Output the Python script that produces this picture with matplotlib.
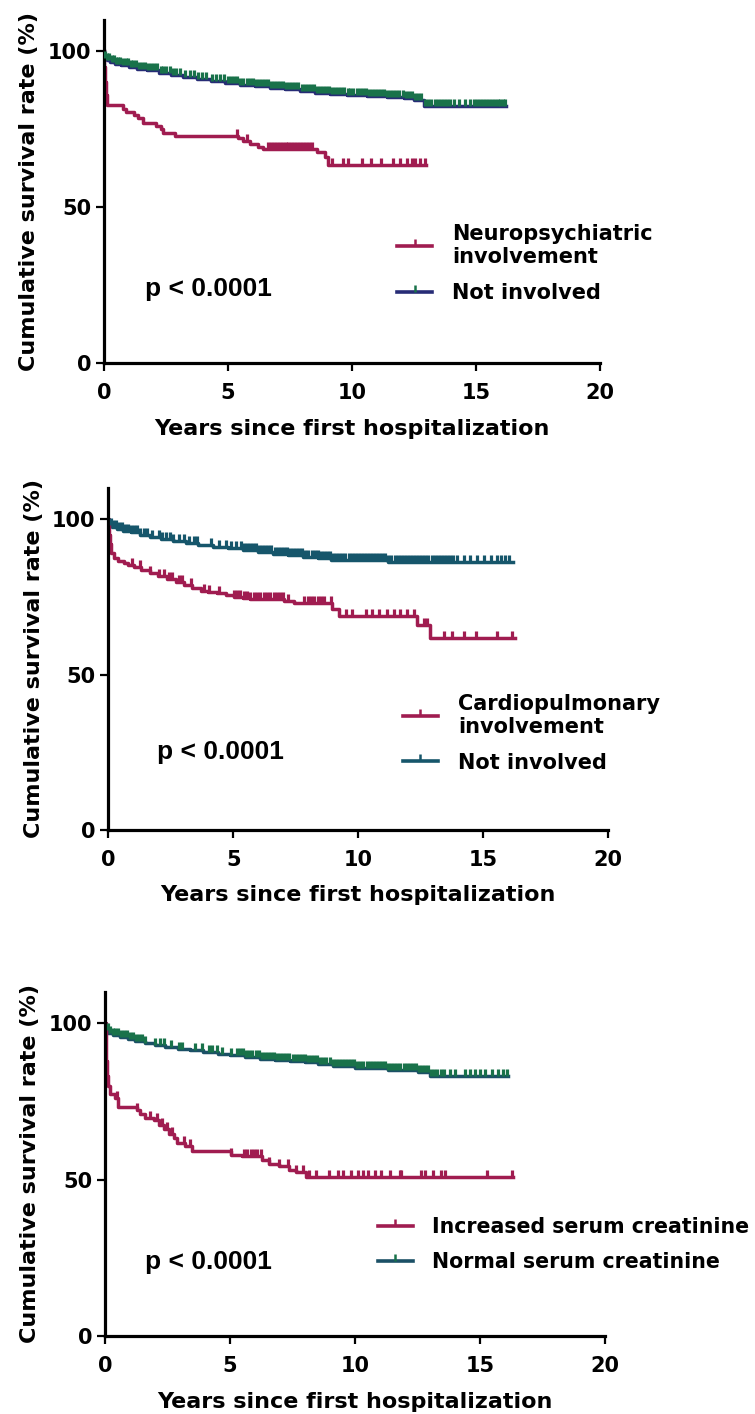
import numpy as np
import matplotlib
matplotlib.use("Agg")
import matplotlib.pyplot as plt
from matplotlib.lines import Line2D

plt.rcParams["font.family"] = ["DejaVu Sans"]
plt.rcParams["font.weight"] = "bold"
plt.rcParams["axes.labelweight"] = "bold"

RED = "#A01C50"
NAVY = "#272C76"
GREEN = "#19724A"
TEAL = "#16566B"
DARK_TEAL = "#1B5066"

# --- panel 1: neuropsychiatric involvement ---
NP_T = [0, 0.02, 0.04, 0.07, 0.12, 0.77, 0.9, 1.23, 1.37, 1.57, 2.11, 2.3, 2.4, 2.87,
        5.4, 5.6, 5.9, 6.2, 6.4, 8.6, 8.9, 9.05, 13.0]
NP_S = [100, 95, 90, 86, 82.8, 81.5, 80.5, 79.6, 78.5, 77.0, 75.9, 74.9, 73.8, 72.7,
        72.0, 71.1, 70.2, 69.2, 68.5, 67.5, 66.0, 63.6, 63.6]
NP_CENS = [5.35, 5.75, 6.6, 6.72, 6.84, 6.96, 7.08, 7.2, 7.32, 7.44, 7.56, 7.68, 7.8,
           7.92, 8.04, 8.16, 8.28, 8.4, 9.2, 9.65, 9.85, 10.4, 10.75, 11.15, 11.65,
           11.95, 12.2, 12.4, 12.55, 12.75, 12.95]

NI1_T = [0, 0.02, 0.06, 0.12, 0.25, 0.45, 0.7, 1.0, 1.35, 1.75, 2.2, 2.7, 3.2, 3.75, 4.3,
         4.9, 5.5, 6.1, 6.7, 7.3, 7.9, 8.5, 9.1, 9.8, 10.6, 11.4, 12.1, 12.5, 12.9, 16.2]
NI1_S = [100, 98.8, 97.9, 97.2, 96.6, 96.0, 95.5, 95.0, 94.4, 93.8, 93.1, 92.4, 91.7,
         91.0, 90.4, 89.8, 89.2, 88.7, 88.2, 87.7, 87.2, 86.7, 86.2, 85.8, 85.5, 85.2,
         84.9, 84.4, 82.4, 82.4]
NI1_CENS = [0.06, 0.14, 0.22, 0.31, 0.39, 0.48, 0.57, 0.66, 0.78, 0.87, 0.96, 1.08, 1.19,
            1.3, 1.42, 1.55, 1.66, 1.78, 1.9, 2.03, 2.15, 2.28, 2.4, 2.52, 2.66, 2.78,
            2.92, 3.07, 3.27, 3.47, 3.62, 3.78, 3.95, 4.12, 4.34, 4.5, 4.68, 4.85, 5.01,
            5.14, 5.26, 5.38, 5.5, 5.62, 5.75, 5.87, 5.99, 6.12, 6.24, 6.36, 6.49, 6.61,
            6.73, 6.86, 6.98, 7.1, 7.23, 7.35, 7.47, 7.6, 7.72, 7.84, 7.97, 8.09, 8.21,
            8.34, 8.46, 8.58, 8.71, 8.83, 8.95, 9.08, 9.2, 9.32, 9.45, 9.57, 9.69, 9.82,
            9.94, 10.06, 10.19, 10.31, 10.43, 10.56, 10.68, 10.8, 10.93, 11.05, 11.17,
            11.3, 11.42, 11.54, 11.67, 11.79, 11.91, 12.04, 12.16, 12.28, 12.41, 12.53,
            12.65, 12.78, 12.95, 13.08, 13.2, 13.33, 13.45, 13.57, 13.7, 13.82, 13.95,
            14.1, 14.33, 14.56, 14.76, 14.9, 15.03, 15.15, 15.27, 15.4, 15.52, 15.64,
            15.77, 15.89, 15.97, 16.1, 16.17]

# --- panel 2: cardiopulmonary involvement ---
CP_T = [0, 0.02, 0.05, 0.1, 0.21, 0.4, 0.61, 0.8, 1.01, 1.3, 1.68, 2.0, 2.35, 2.7, 3.02,
        3.35, 3.69, 4.0, 4.36, 4.7, 5.02, 5.4, 5.69, 7.03, 7.43, 8.96, 9.23, 12.37, 12.9,
        16.3]
CP_S = [100, 95, 92, 89, 87.4, 86.6, 85.8, 85.2, 84.5, 83.6, 82.6, 81.7, 80.6, 79.7,
        78.8, 77.9, 77.0, 76.5, 76.1, 75.5, 74.9, 74.5, 74.2, 73.6, 72.9, 71.0, 68.9,
        66.0, 61.7, 61.7]
CP_CENS = [0.95, 1.28, 1.68, 2.02, 2.22, 2.42, 2.55, 2.82, 2.95, 3.29, 3.82, 4.02, 4.42,
           5.02, 5.15, 5.29, 5.42, 5.56, 5.69, 5.82, 5.95, 6.09, 6.22, 6.36, 6.49, 6.62,
           6.75, 6.89, 7.0, 7.2, 7.85, 7.98, 8.1, 8.25, 8.4, 8.52, 8.65, 8.9, 9.5, 9.77,
           10.3, 10.57, 10.83, 11.17, 11.43, 11.7, 11.97, 12.24, 12.64, 12.77, 13.44,
           13.78, 14.24, 14.71, 15.58, 16.18]

NI2_T = [0, 0.02, 0.06, 0.15, 0.35, 0.6, 0.9, 1.25, 1.65, 2.1, 2.6, 3.1, 3.6, 4.2, 4.8,
         5.4, 6.0, 6.6, 7.2, 7.8, 8.4, 8.9, 11.2, 16.2]
NI2_S = [100, 98.8, 98.0, 97.5, 96.9, 96.3, 95.7, 95.0, 94.3, 93.6, 92.9, 92.2, 91.6,
         91.1, 90.6, 90.0, 89.4, 88.8, 88.3, 87.9, 87.6, 86.9, 86.1, 86.1]
NI2_CENS = [0.1, 0.2, 0.3, 0.42, 0.54, 0.66, 0.78, 0.9, 1.02, 1.15, 1.28, 1.42, 1.55,
            1.75, 2.02, 2.15, 2.3, 2.45, 2.6, 2.82, 3.02, 3.22, 3.42, 3.55, 4.09, 4.42,
            4.69, 4.89, 5.09, 5.3, 5.42, 5.55, 5.67, 5.79, 5.92, 6.04, 6.16, 6.29, 6.41,
            6.53, 6.66, 6.78, 6.9, 7.03, 7.15, 7.27, 7.4, 7.52, 7.64, 7.77, 7.89, 8.01,
            8.14, 8.26, 8.38, 8.51, 8.63, 8.75, 8.88, 9.0, 9.12, 9.25, 9.37, 9.49, 9.62,
            9.74, 9.86, 9.99, 10.11, 10.23, 10.36, 10.48, 10.6, 10.73, 10.85, 10.97,
            11.1, 11.22, 11.34, 11.47, 11.59, 11.71, 11.84, 11.96, 12.08, 12.21, 12.33,
            12.45, 12.58, 12.7, 12.82, 12.95, 13.07, 13.19, 13.32, 13.44, 13.56, 13.69,
            13.8, 13.97, 14.24, 14.5, 14.77, 15.04, 15.31, 15.58, 15.71, 15.91, 16.05]

# --- panel 3: serum creatinine ---
SC_T = [0, 0.02, 0.04, 0.07, 0.12, 0.2, 0.4, 0.53, 1.27, 1.4, 1.6, 1.94, 2.14, 2.34,
        2.54, 2.74, 2.88, 3.21, 3.48, 5.02, 5.49, 6.29, 6.56, 6.96, 7.36, 7.63, 8.03,
        16.3]
SC_S = [100, 94, 88, 83, 80, 77.5, 76.2, 73.3, 72.4, 71.0, 69.6, 69.0, 67.5, 66.1, 64.6,
        63.3, 61.7, 60.6, 59.0, 57.9, 57.5, 56.4, 55.1, 54.2, 53.2, 52.3, 50.9, 50.9]
SC_CENS = [0.47, 1.27, 1.81, 2.08, 2.28, 2.48, 2.68, 3.14, 3.41, 5.02, 5.55, 5.69, 5.82,
           5.96, 6.09, 6.22, 6.56, 6.96, 7.3, 7.63, 7.9, 8.16, 8.43, 8.97, 9.31, 9.51,
           9.84, 10.11, 10.31, 10.51, 10.78, 11.04, 11.38, 11.78, 11.85, 12.65, 12.78,
           13.12, 13.45, 13.59, 15.26, 16.27]

NS_T = [0, 0.02, 0.06, 0.13, 0.3, 0.6, 0.9, 1.2, 1.6, 2.0, 2.4, 2.9, 3.4, 3.9, 4.5, 5.0,
        5.6, 6.2, 6.8, 7.4, 8.0, 8.5, 9.1, 10.0, 11.3, 12.5, 12.98, 16.1]
NS_S = [100, 98.7, 97.7, 96.9, 96.3, 95.6, 95.0, 94.3, 93.7, 93.1, 92.5, 91.9, 91.3,
        90.8, 90.3, 89.9, 89.3, 88.7, 88.3, 87.9, 87.5, 87.0, 86.2, 85.7, 85.1, 84.4,
        83.1, 83.1]
NS_CENS = [0.1, 0.2, 0.3, 0.41, 0.52, 0.63, 0.75, 0.86, 0.98, 1.1, 1.22, 1.34, 1.47,
           1.61, 2.01, 2.21, 2.34, 2.62, 2.94, 3.08, 3.61, 3.88, 4.15, 4.28, 4.49, 4.69,
           5.02, 5.29, 5.4, 5.52, 5.65, 5.77, 5.89, 6.02, 6.14, 6.26, 6.39, 6.51, 6.63,
           6.76, 6.88, 7.0, 7.13, 7.25, 7.37, 7.5, 7.62, 7.74, 7.87, 7.99, 8.11, 8.24,
           8.36, 8.48, 8.61, 8.73, 8.85, 8.98, 9.1, 9.22, 9.35, 9.47, 9.59, 9.72, 9.84,
           9.96, 10.09, 10.21, 10.33, 10.46, 10.58, 10.7, 10.83, 10.95, 11.07, 11.2,
           11.32, 11.44, 11.57, 11.69, 11.81, 11.94, 12.06, 12.18, 12.31, 12.43, 12.55,
           12.68, 12.8, 12.92, 13.05, 13.17, 13.29, 13.42, 13.54, 13.79, 13.99, 14.39,
           14.59, 14.79, 14.99, 15.19, 15.46, 15.73, 15.93, 16.06]

X_TICKS = [0, 5, 10, 15, 20]
Y_TICKS = [0, 50, 100]
P_TEXT = "p < 0.0001"


def km_curve(ax, t, s, cens, line_color, tick_color):
    t = np.asarray(t, dtype=float)
    s = np.asarray(s, dtype=float)
    c = np.asarray(cens, dtype=float)
    ax.step(t, s, where="post", color=line_color, lw=2.5, zorder=2)
    # censor marks: short vertical ticks sitting on the curve
    idx = np.searchsorted(t, c, side="right") - 1
    ax.plot(c, s[idx], ls="none", marker=2, ms=4.8, mew=2.3, color=tick_color, zorder=3)


def handle(line_color, tick_color):
    return Line2D([], [], color=line_color, lw=2.6, marker=2, ms=5, mew=1.8,
                  mec=tick_color)


def style_axes(ax):
    ax.set_xlim(0, 20)
    ax.set_ylim(0, 110)
    ax.set_xticks(X_TICKS)
    ax.set_yticks(Y_TICKS)
    for side in ["top", "right"]:
        ax.spines[side].set_visible(False)
    for side in ["left", "bottom"]:
        ax.spines[side].set_linewidth(2.3)
    ax.tick_params(direction="out", length=5.8, width=1.6, labelsize=15)
    ax.tick_params(axis="x", pad=8.5)
    ax.tick_params(axis="y", pad=3.5)
    ax.set_xlabel("Years since first hospitalization", fontsize=16)
    ax.set_ylabel("Cumulative survival rate (%)", fontsize=16)
    ax.xaxis.set_label_coords(0.5, -0.162)
    ax.yaxis.set_label_coords(-0.13, 0.5)


fig = plt.figure(figsize=(7.55, 14.14), dpi=100)
ax1 = fig.add_axes([0.1377, 0.7433, 0.657, 0.2426])
ax2 = fig.add_axes([0.1437, 0.4130, 0.661, 0.2419])
ax3 = fig.add_axes([0.1391, 0.0552, 0.6623, 0.2433])

legend_kw = dict(loc="upper left", frameon=False, borderpad=0, borderaxespad=0,
                 handlelength=1.68, handletextpad=0.96, labelspacing=0.75,
                 numpoints=1, prop={"family": "DejaVu Sans", "weight": "bold", "size": 15})
p_kw = dict(family="Liberation Sans", weight="bold", fontsize=19, va="baseline")

# panel 1
km_curve(ax1, NI1_T, NI1_S, NI1_CENS, NAVY, GREEN)
km_curve(ax1, NP_T, NP_S, NP_CENS, RED, RED)
style_axes(ax1)
ax1.legend([handle(RED, RED), handle(NAVY, GREEN)],
           ["Neuropsychiatric\ninvolvement", "Not involved"],
           bbox_to_anchor=(0.591, 0.405), **legend_kw)
ax1.text(1.65, 21.5, P_TEXT, **p_kw)

# panel 2
km_curve(ax2, NI2_T, NI2_S, NI2_CENS, TEAL, TEAL)
km_curve(ax2, CP_T, CP_S, CP_CENS, RED, RED)
style_axes(ax2)
ax2.legend([handle(RED, RED), handle(TEAL, TEAL)],
           ["Cardiopulmonary\ninvolvement", "Not involved"],
           bbox_to_anchor=(0.590, 0.398), **legend_kw)
ax2.text(1.94, 22.9, P_TEXT, **p_kw)

# panel 3
km_curve(ax3, NS_T, NS_S, NS_CENS, DARK_TEAL, GREEN)
km_curve(ax3, SC_T, SC_S, SC_CENS, RED, RED)
style_axes(ax3)
leg3_kw = dict(legend_kw, prop={"family": "DejaVu Sans", "weight": "bold", "size": 14.8})
ax3.legend([handle(RED, RED), handle(DARK_TEAL, GREEN)],
           ["Increased serum creatinine", "Normal serum creatinine"],
           bbox_to_anchor=(0.546, 0.346), **leg3_kw)
ax3.text(1.6, 21.4, P_TEXT, **p_kw)

fig.savefig("out.png", dpi=100)
